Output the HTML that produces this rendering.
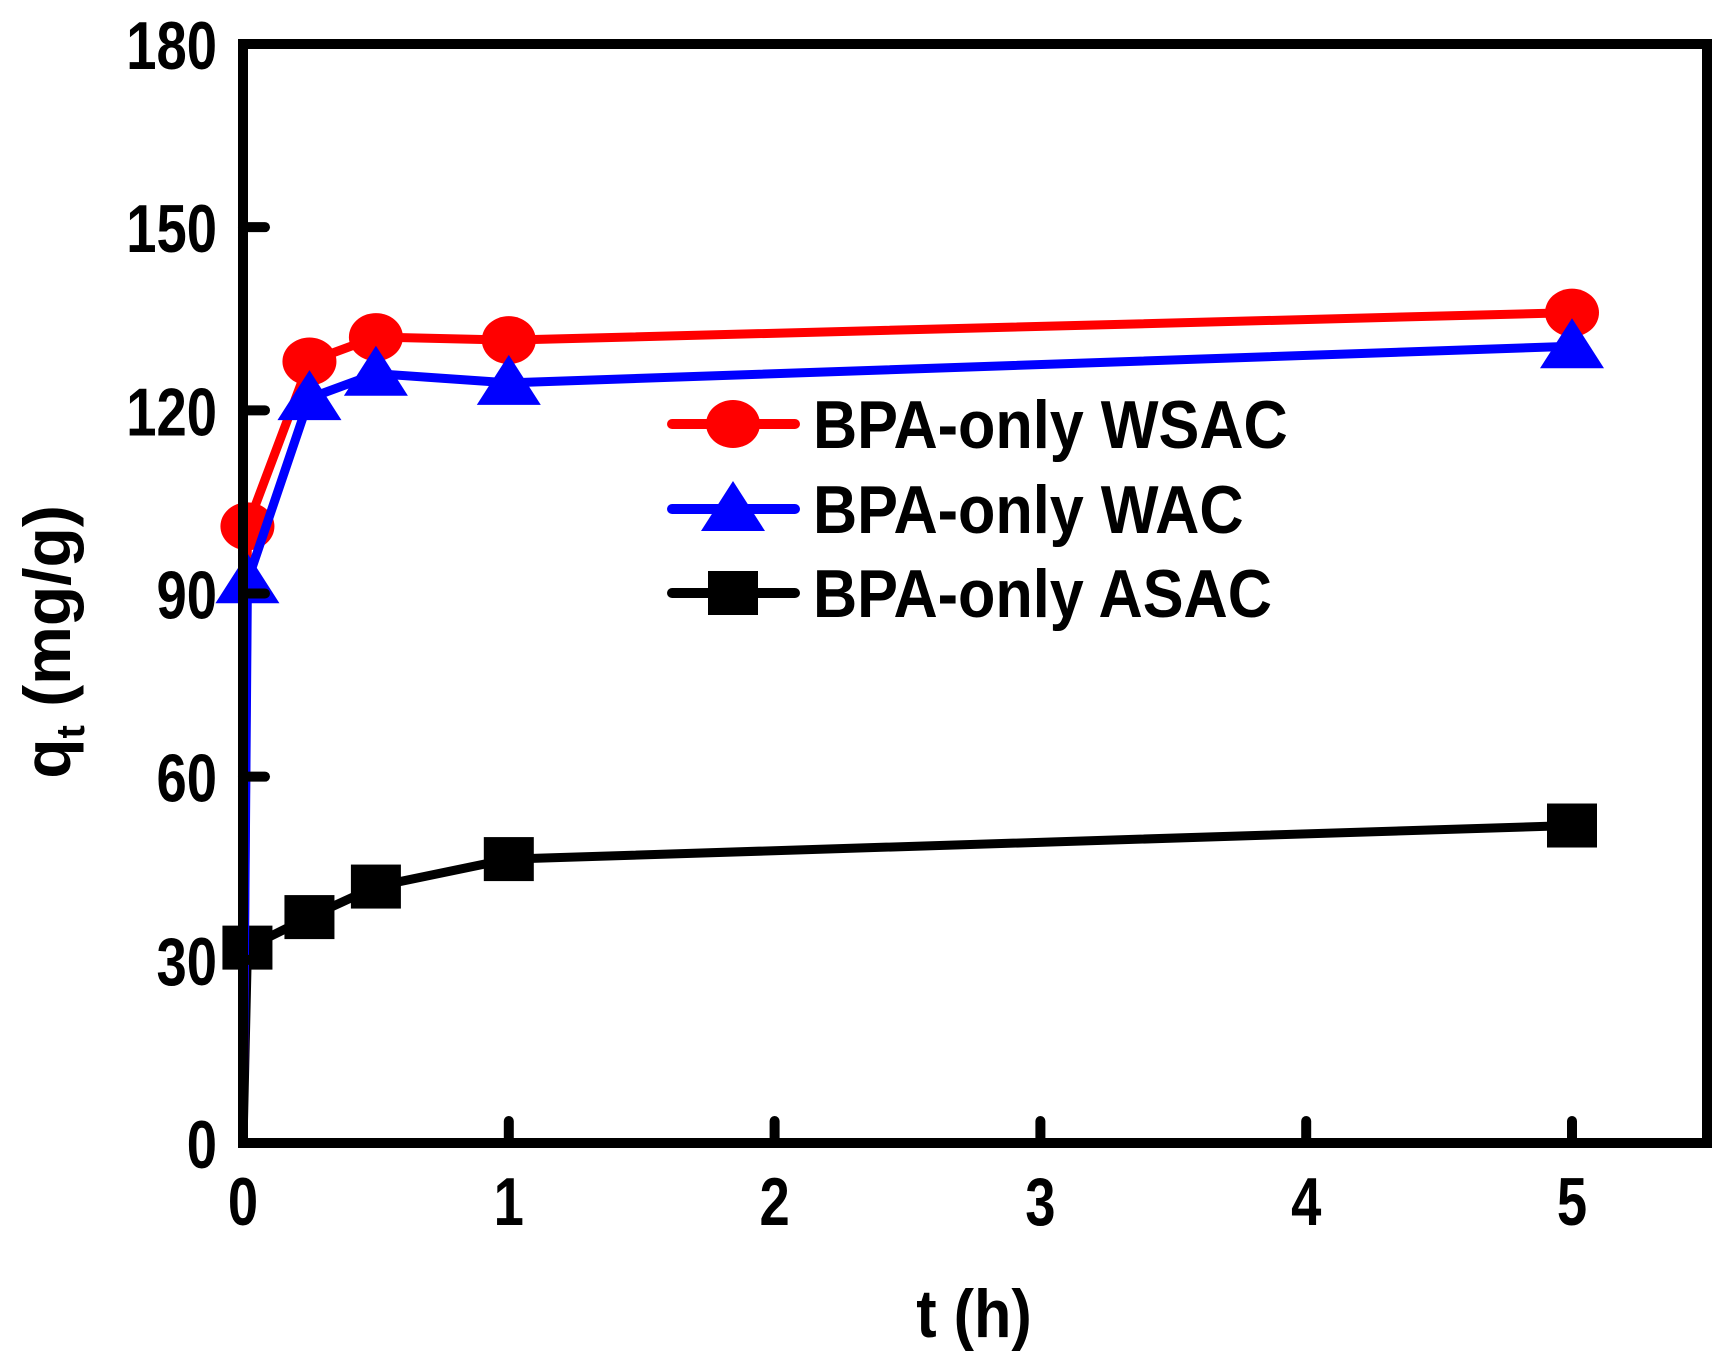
<!DOCTYPE html>
<html><head><meta charset="utf-8"><style>
html,body{margin:0;padding:0;background:#fff}
svg{display:block}
text{font-family:"Liberation Sans",Arial,sans-serif;font-weight:bold;fill:#000}
</style></head><body>
<svg id="chart" width="1726" height="1354" viewBox="0 0 1726 1354">
<g id="plot"></g>
</svg>
<script>
const xTicks=[0,1,2,3,4,5];
const yTicks=[0,30,60,90,120,150,180];
const times=[0,0.0167,0.25,0.5,1,5];
const wsac=[0,101,128,132,131.5,136];
const wac=[0,92,122,126,124.5,130.5];
const asac=[0,32,37,42,46.5,52];
const seriesNames=["BPA-only WSAC","BPA-only WAC","BPA-only ASAC"];

const L=243,R=1707,T=44,B=1143;
const X=v=>L+v*265.8;
const Y=v=>B-(v/180)*(B-T);
const NS="http://www.w3.org/2000/svg";
const svg=document.getElementById('chart');
function mk(tag,attrs,parent){const e=document.createElementNS(NS,tag);for(const k in attrs)e.setAttribute(k,attrs[k]);(parent||svg).appendChild(e);return e;}

const series=[{d:wsac,c:"#ff0000",m:"circle",n:"wsac"},{d:wac,c:"#0000ff",m:"tri",n:"wac"},{d:asac,c:"#000000",m:"sq",n:"asac"}];
function marker(m,x,y,c,parent){
  if(m==="circle")return mk('ellipse',{cx:x,cy:y,rx:27,ry:24,fill:c},parent);
  if(m==="tri")return mk('polygon',{points:`${x},${y-28} ${x+32},${y+22} ${x-32},${y+22}`,fill:c},parent);
  return mk('rect',{x:x-25,y:y-22,width:50,height:44,fill:c},parent);
}
[2,0,1].forEach(i=>{
  const s=series[i];
  const g=mk('g',{});
  
  
  const pl=mk('polyline',{points:times.map((t,j)=>X(t)+','+Y(s.d[j])).join(' '),fill:'none',stroke:s.c,'stroke-width':9,'stroke-linejoin':'round'},g);
  
  
  times.forEach((t,j)=>{if(j===0)return;const mm=marker(s.m,X(t),Y(s.d[j]),s.c,g);
    
    });
});

const fr=mk('rect',{x:L,y:T,width:R-L,height:B-T,fill:'none',stroke:'#000','stroke-width':10});



function ntext(x,y,anchor,size,str,parent){
  const t=mk('text',{x:0,y:0,'text-anchor':anchor,'font-size':size,transform:`translate(${x},${y}) scale(0.8,1)`},parent);
  t.textContent=str;
  return t;
}
xTicks.forEach(v=>{
  const l=mk('line',{x1:X(v),x2:X(v),y1:B,y2:B-22,stroke:'#000','stroke-width':10,'stroke-linecap':'round'});
  
  
  const t=ntext(X(v),B+82,'middle',68,v);
  
  
});
yTicks.forEach(v=>{
  const l=mk('line',{x1:L,x2:L+22,y1:Y(v),y2:Y(v),stroke:'#000','stroke-width':10,'stroke-linecap':'round'});
  
  
  const t=ntext(L-26,Y(v)+25,'end',68,v);
  
  
});

const lg=mk('g',{});


const ly=[424,509,593];
series.forEach((s,i)=>{
  const e=mk('g',{},lg);
  
  
  mk('line',{x1:672,x2:795,y1:ly[i],y2:ly[i],stroke:s.c,'stroke-width':10,'stroke-linecap':'round'},e);
  marker(s.m,733,ly[i],s.c,e);
  const t=mk('text',{x:0,y:0,'font-size':68,transform:`translate(813,${ly[i]+24}) scale(0.9,1)`},e);
  t.textContent=seriesNames[i];
});

const xt=mk('text',{x:0,y:0,'text-anchor':'middle','font-size':68,transform:'translate(974,1337) scale(0.9,1)'});
xt.textContent='t (h)';


const yt=mk('text',{x:0,y:0,'text-anchor':'middle','font-size':66,transform:'translate(70,642) rotate(-90)'});
yt.innerHTML='q<tspan font-size="40" dy="14">t</tspan><tspan dy="-14"> (mg/g)</tspan>';


</script>
</body></html>
